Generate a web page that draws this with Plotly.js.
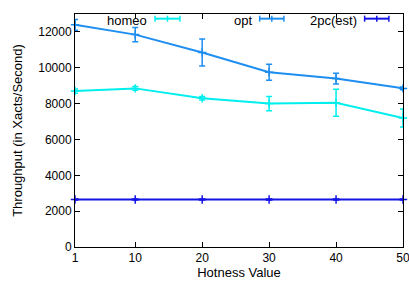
<!DOCTYPE html>
<html><head><meta charset="utf-8">
<script src="https://cdn.plot.ly/plotly-3.0.1.min.js"></script>
<style>html,body{margin:0;padding:0;background:#fff}#c{width:409px;height:283px}</style>
</head><body><div id="c"></div>
<script>
const hotness = [1, 10, 20, 30, 40, 50];
const homeo = [8700, 8850, 8300, 8000, 8050, 7200];
const homeoErr = [120, 100, 100, 400, 750, 500];
const opt = [12400, 11850, 10850, 9750, 9400, 8850];
const optErr = [300, 400, 750, 450, 300, 80];
const pc2 = [2650, 2650, 2650, 2650, 2650, 2650];
const pc2Err = [30, 30, 30, 30, 30, 30];
const names = ["homeo", "opt", "2pc(est)"];
const colors = ["#00eeee", "#1e8ef0", "#1414e6"];
const yTicks = [0, 2000, 4000, 6000, 8000, 10000, 12000];

const series = [[homeo, homeoErr], [opt, optErr], [pc2, pc2Err]];
const traces = series.map((s, i) => ({
  type: "scatter", mode: "lines+markers", x: hotness, y: s[0], name: names[i],
  line: {color: colors[i], width: 2},
  marker: {symbol: "cross-thin", size: 6, line: {color: colors[i], width: 1.5}},
  error_y: {type: "data", array: s[1], visible: true, color: colors[i], thickness: 1.5, width: 3},
  showlegend: false, cliponaxis: false
}));

const font = {family: "Liberation Sans, Arial, sans-serif", size: 12, color: "#000"};
const font13 = {family: "Liberation Sans, Arial, sans-serif", size: 13, color: "#000"};

// custom gnuplot-style legend (text then sample)
const legX = [[0.222, 0.244, 0.320], [0.543, 0.563, 0.637], [0.862, 0.883, 0.957]];
const ly = 0.98;
const annotations = names.map((n, i) => ({
  xref: "paper", yref: "paper", x: legX[i][0], y: 0.972, xanchor: "right", yanchor: "middle",
  text: n, showarrow: false, borderpad: 0, font: font13
}));
const shapes = [];
names.forEach((n, i) => {
  const [_, a, b] = legX[i];
  shapes.push({type: "line", xref: "paper", yref: "paper", x0: a, x1: b, y0: ly, y1: ly, line: {color: colors[i], width: 2}});
  [a, (a + b) / 2, b].forEach(x => shapes.push({type: "line", xref: "paper", yref: "paper", x0: x, x1: x, y0: ly - 0.013, y1: ly + 0.013, line: {color: colors[i], width: 1.5}}));
});

Plotly.newPlot("c", traces, {
  width: 409, height: 283,
  margin: {l: 75, r: 6, t: 14, b: 36},
  paper_bgcolor: "#fff", plot_bgcolor: "#fff",
  font: font,
  xaxis: {range: [1, 50], tickvals: hotness, ticktext: hotness.map(String), showgrid: false, zeroline: false,
    showline: true, linecolor: "#000", linewidth: 1, mirror: "ticks", ticklabeloverflow: "allow",
    ticks: "inside", ticklen: 5, tickcolor: "#000", tickfont: font,
    title: {text: "Hotness Value", font: font13, standoff: 3}},
  yaxis: {range: [0, 13000], tickvals: yTicks, ticktext: yTicks.map(String),
    showgrid: false, zeroline: false, showline: true, linecolor: "#000", linewidth: 1, mirror: "ticks",
    ticks: "inside", ticklen: 5, tickcolor: "#000", tickfont: font,
    title: {text: "Throughput (in Xacts/Second)", font: font13, standoff: 12}},
  annotations: annotations, shapes: shapes
}, {displayModeBar: false, staticPlot: true});
</script></body></html>
